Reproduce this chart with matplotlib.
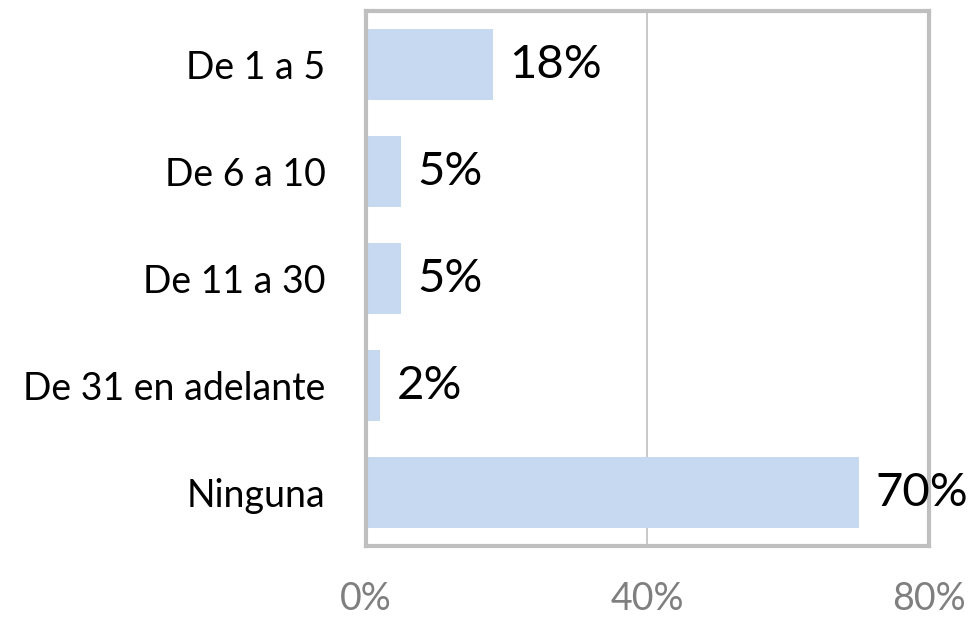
import matplotlib.pyplot as plt

categories = ["De 1 a 5", "De 6 a 10", "De 11 a 30", "De 31 en adelante", "Ninguna"]
values = [18, 5, 5, 2, 70]
xticks = [0, 40, 80]
xtick_labels = ["0%", "40%", "80%"]

plt.rcParams['font.family'] = ['Lato', 'DejaVu Sans']

fig = plt.figure(figsize=(9.69, 6.17), dpi=100)
ax = fig.add_axes([0.3777, 0.115, 0.581, 0.867])

pos = list(range(len(categories)))
ax.barh(pos, values, height=0.67, color="#C7D9F1", zorder=2)

for p, v in zip(pos, values):
    ax.annotate(f"{v}%", (v, p), xytext=(12, 0), textcoords="offset points",
                ha="left", va="center", fontsize=34, color="black",
                annotation_clip=False)

ax.set_xlim(0, 80)
ax.set_ylim(4.5, -0.5)
ax.set_yticks(pos)
ax.set_yticklabels(categories, fontsize=27)
ax.set_xticks(xticks)
ax.set_xticklabels(xtick_labels, fontsize=27, color="#7F7F7F")
ax.tick_params(axis="both", length=0)
ax.tick_params(axis="x", pad=25)
ax.tick_params(axis="y", pad=29)

ax.grid(axis="x", color="#BFBFBF", linewidth=1.2, zorder=0)
for s in ax.spines.values():
    s.set_color("#BFBFBF")
    s.set_linewidth(3)

fig.savefig("out.png", dpi=100)
